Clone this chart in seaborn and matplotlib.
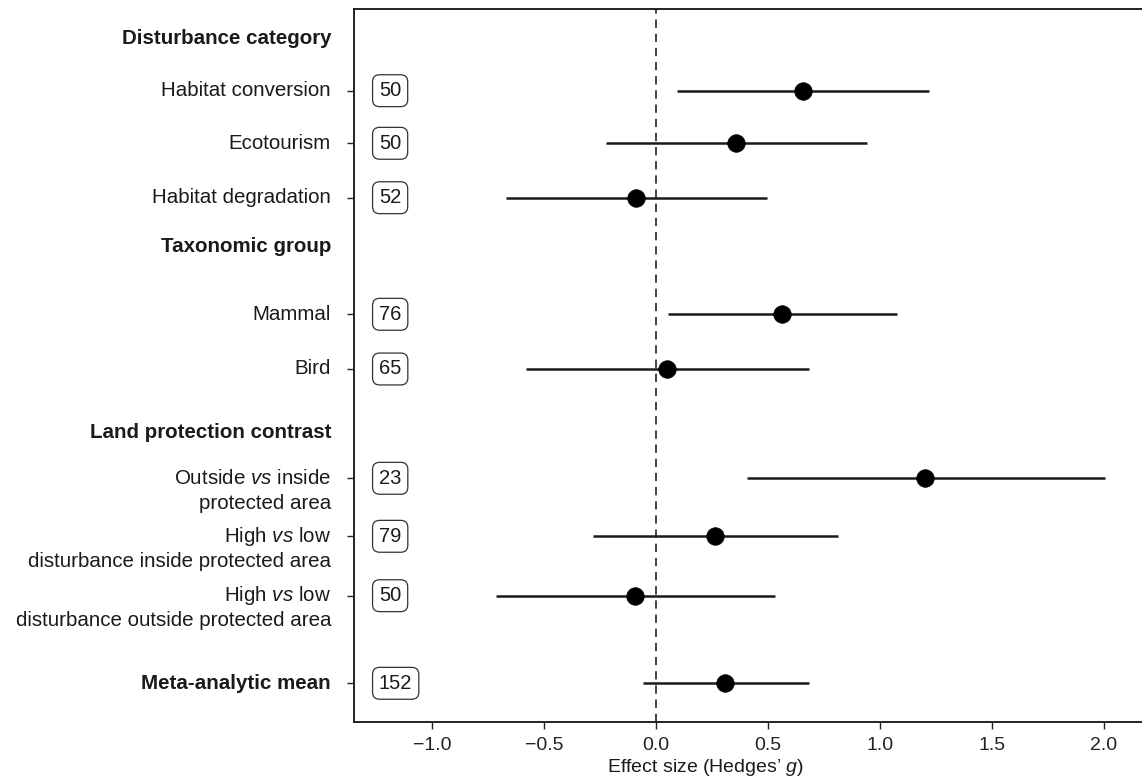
import matplotlib
matplotlib.use("Agg")
import matplotlib.pyplot as plt
from matplotlib import transforms
import seaborn as sns
import pandas as pd

# ---------------- data ----------------
labels = [
    "Habitat conversion", "Ecotourism", "Habitat degradation",
    "Mammal", "Bird",
    "Outside $\\mathit{vs}$ inside\nprotected area",
    "High $\\mathit{vs}$ low\ndisturbance inside protected area",
    "High $\\mathit{vs}$ low\ndisturbance outside protected area",
    "Meta-analytic mean",
]
effect = [0.655, 0.358, -0.089, 0.564, 0.050, 1.203, 0.263, -0.094, 0.308]
ci_low = [0.095, -0.223, -0.670, 0.053, -0.580, 0.405, -0.282, -0.714, -0.059]
ci_high = [1.220, 0.940, 0.496, 1.078, 0.682, 2.003, 0.812, 0.533, 0.684]
n_studies = [50, 50, 52, 76, 65, 23, 79, 50, 152]
bold_rows = [False, False, False, False, False, False, False, False, True]
headers = ["Disturbance category", "Taxonomic group", "Land protection contrast"]
xticks = [-1.0, -0.5, 0.0, 0.5, 1.0, 1.5, 2.0]

# ---------------- layout (row positions, top -> bottom) ----------------
row_pos = [90.7, 143.3, 197.7, 314.3, 369.0, 478.3, 536.3, 595.7, 683.3]
header_pos = [38.0, 247.0, 433.0]

sns.set_theme(style="white")
plt.rcParams["font.family"] = ["Liberation Sans", "DejaVu Sans"]
plt.rcParams["mathtext.fontset"] = "custom"
plt.rcParams["mathtext.rm"] = "Liberation Sans"
plt.rcParams["mathtext.it"] = "Liberation Sans:italic"

df = pd.DataFrame({"label": labels, "effect": effect, "lo": ci_low,
                   "hi": ci_high, "n": n_studies, "y": row_pos})

fig = plt.figure(figsize=(11.42, 7.82), dpi=100)
ax = fig.add_axes([354 / 1142, 1 - 721.7 / 782, (1147 - 354) / 1142, (721.7 - 9) / 782])

ax.axvline(0, color="#222222", lw=1.2, ls=(0, (5, 3.5)), zorder=1)
ax.hlines(df["y"], df["lo"], df["hi"], color="#1a1a1a", lw=1.8, zorder=2)
sns.scatterplot(data=df, x="effect", y="y", ax=ax, s=160, color="black",
                edgecolor="black", linewidth=0.5, zorder=3, legend=False)

x_left = (354 - 656) / 224
x_right = (1147 - 656) / 224
ax.set_xlim(x_left, x_right)
ax.set_ylim(721.7, 9)

ax.set_xticks(xticks)
ax.set_xticklabels([f"{t:.1f}".replace("-", "\u2212") for t in xticks], fontsize=14)
ax.set_yticks(row_pos)
ax.set_yticklabels([])
ax.tick_params(axis="both", which="both", direction="out", length=5, width=1.0,
               color="#222222", left=True, bottom=True, pad=6)
ax.tick_params(axis="x", colors="#222222")

for side in ["left", "bottom", "top", "right"]:
    ax.spines[side].set_visible(True)
    ax.spines[side].set_color("#222222")
    ax.spines[side].set_linewidth(1.4)

trans = transforms.blended_transform_factory(ax.transAxes, ax.transData)
lab_x = (331 - 354) / (1147 - 354)
line_h = 25.0
for lab, y, b in zip(labels, row_pos, bold_rows):
    lines = lab.split("\n")
    for i, ln in enumerate(lines):
        ax.text(lab_x, y + i * line_h, ln, transform=trans, ha="right", va="center",
                fontsize=14.8, fontweight="bold" if b else "normal", color="#1a1a1a")

for h, y in zip(headers, header_pos):
    ax.text(lab_x, y, h, transform=trans, ha="right", va="center",
            fontsize=14.8, fontweight="bold", color="#1a1a1a")

box_x = (379 - 656) / 224
for n, y in zip(n_studies, row_pos):
    ax.text(box_x, y, str(n), ha="left", va="center", fontsize=14.5, color="#1a1a1a",
            bbox=dict(boxstyle="round,pad=0.32,rounding_size=0.35", fc="white",
                      ec="#333333", lw=0.9))

ax.set_xlabel("Effect size (Hedges\u2019 $\\mathit{g}$)", fontsize=14, color="#1a1a1a")
ax.xaxis.set_label_coords((705 - 354) / (1147 - 354), (721.7 - 757) / (721.7 - 9))
ax.set_ylabel("")

fig.savefig("out.png", dpi=100)
